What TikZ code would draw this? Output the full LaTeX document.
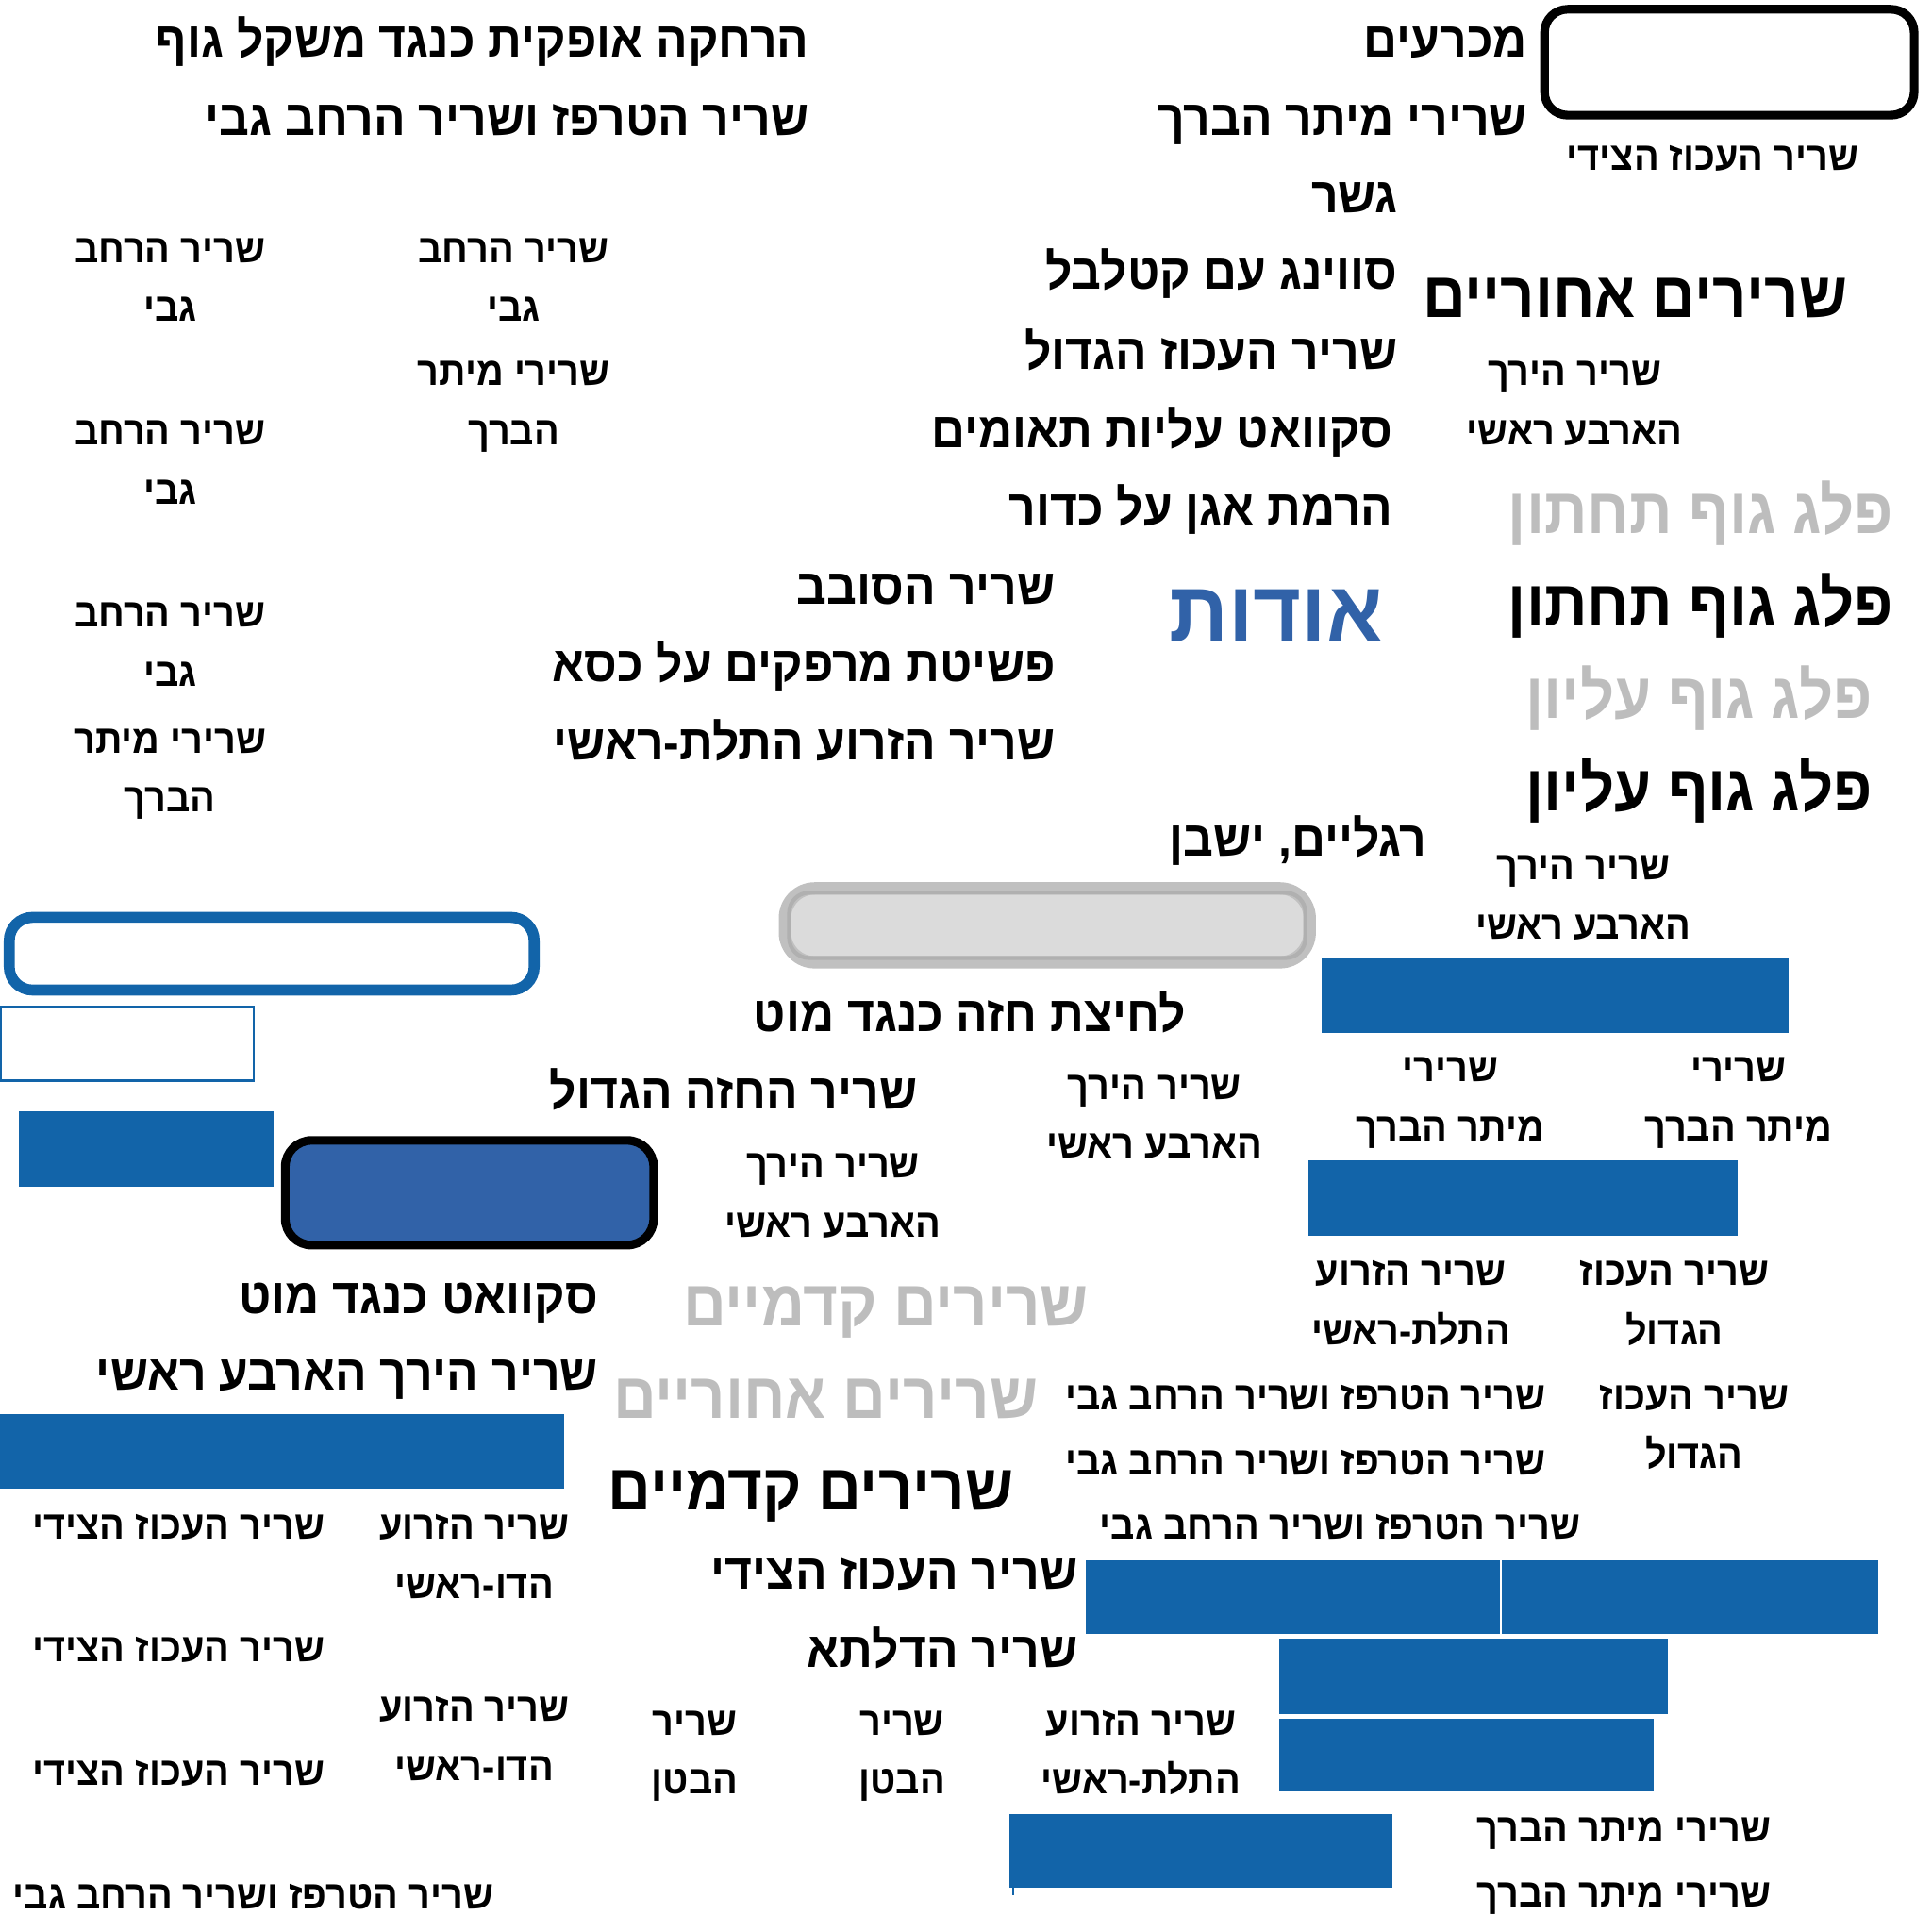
\documentclass[tikz,border=0pt]{standalone}
\usepackage{fontspec}
\usepackage{xcolor}
\setmainfont{Liberation Sans}
\newfontfamily\hebbig[Script=Hebrew, FakeStretch=0.945]{Liberation Sans}
\newfontfamily\hebsmall[Script=Hebrew, FakeStretch=0.94]{Liberation Sans}
\newfontfamily\hebhead[Script=Hebrew, FakeStretch=0.925]{Liberation Sans}
\newfontfamily\hebabout[Script=Hebrew, FakeStretch=0.96]{Liberation Sans}
\TeXXeTstate=1
\definecolor{myblue}{RGB}{18,100,169}
\definecolor{mydarkblue}{RGB}{49,98,168}
\definecolor{mygray}{RGB}{189,189,189}
\definecolor{myboxgray}{RGB}{219,219,219}
\definecolor{myedgegray}{RGB}{192,192,192}
\definecolor{myedgedark}{RGB}{176,176,176}
\newcommand{\heb}[1]{\beginR #1\endR}

\begin{document}
\begin{tikzpicture}[x=0.013061cm, y=-0.013061cm,
  big/.style={font=\hebbig\bfseries\fontsize{15}{18}\selectfont, inner sep=0pt, anchor=base east},
  small/.style={font=\hebsmall\bfseries\fontsize{12}{17.8}\selectfont, inner sep=0pt, anchor=base, align=center},
  head/.style={font=\hebhead\bfseries\fontsize{19.5}{23}\selectfont, inner sep=0pt, anchor=base east},
  headgray/.style={head, text=mygray},
  about/.style={font=\hebabout\bfseries\fontsize{26}{30}\selectfont, inner sep=0pt, anchor=base east, text=mydarkblue}]
\useasboundingbox (0,0) rectangle (1568,1568);

% boxes
\draw[line width=2.6pt, rounded corners=7pt] (1253.5,7.5) rectangle (1553.5,93.5);
\draw[myblue, line width=3.3pt, rounded corners=7pt] (7.5,744.5) rectangle (433.5,803.5);
\draw[myblue, line width=0.6pt] (1,817) rectangle (206,877);
\draw[line width=2.6pt, fill=mydarkblue, rounded corners=8pt] (231.5,925.5) rectangle (530.5,1010.5);
\draw[myedgegray, line width=3.7pt, fill=myboxgray, rounded corners=9pt] (637,721) rectangle (1063,781);
\draw[myedgedark, line width=1.2pt, rounded corners=6pt] (640.5,724.5) rectangle (1059.5,777.5);

% blue bars
\foreach \xa/\ya/\xb/\yb in {15/902/222/963, 1073/778/1452/838, 1062/942/1410/1003,
  0/1148/458/1208, 881/1266/1217/1326, 1219/1266/1524/1326,
  1038/1330/1354/1391, 1038/1395/1342/1454, 819/1472/1130/1532}
  \fill[myblue] (\xa,\ya) rectangle (\xb,\yb);
\draw[myblue, line width=0.5pt] (822,1532) -- (822,1538);

% exercises and muscles
\node[big] (exAbd) at (657,46) {\heb{הרחקה אופקית כנגד משקל גוף}};
\node[big] (musTrapTop) at (657,110) {\heb{שריר הטרפז ושריר הרחב גבי}};
\node[big] (exLunge) at (1240,46) {\heb{מכרעים}};
\node[big] (musHamTop) at (1240,110) {\heb{שרירי מיתר הברך}};
\node[big] (exBridge) at (1135,173) {\heb{גשר}};
\node[big] (exSwing) at (1135,235) {\heb{סווינג עם קטלבל}};
\node[big] (musGlutMax) at (1135,300) {\heb{שריר העכוז הגדול}};
\node[big] (exCalf) at (1131,363) {\heb{סקוואט עליות תאומים}};
\node[big] (exHipBall) at (1131,426) {\heb{הרמת אגן על כדור}};
\node[big] (musRot) at (857,490) {\heb{שריר הסובב}};
\node[big] (exDips) at (857,553) {\heb{פשיטת מרפקים על כסא}};
\node[big] (musTri) at (857,617) {\heb{שריר הזרוע התלת-ראשי}};
\node[big] (hdLegs) at (1158,695) {\heb{רגליים, ישבן}};
\node[big] (exBench) at (963,837) {\heb{לחיצת חזה כנגד מוט}};
\node[big] (musPec) at (745,900) {\heb{שריר החזה הגדול}};
\node[big] (exSquat) at (486,1066) {\heb{סקוואט כנגד מוט}};
\node[big] (musQuad) at (486,1128) {\heb{שריר הירך הארבע ראשי}};
\node[big] (musGlutMed) at (875,1290) {\heb{שריר העכוז הצידי}};
\node[big] (musDelt) at (875,1353) {\heb{שריר הדלתא}};

% headings
\node[head] (hdPost) at (1500,258) {\heb{שרירים אחוריים}};
\node[headgray] (hdLowerGray) at (1537,433) {\heb{פלג גוף תחתון}};
\node[head] (hdLower) at (1537,508) {\heb{פלג גוף תחתון}};
\node[headgray] (hdUpperGray) at (1520,583) {\heb{פלג גוף עליון}};
\node[head] (hdUpper) at (1520,658) {\heb{פלג גוף עליון}};
\node[headgray] (hdAntGray) at (884,1076) {\heb{שרירים קדמיים}};
\node[headgray] (hdPostGray) at (843,1151) {\heb{שרירים אחוריים}};
\node[head] (hdAnt) at (823,1225) {\heb{שרירים קדמיים}};
\node[about] (about) at (1123,521) {\heb{אודות}};

% small labels, two lines (base = second line)
\node[small] (lbLat1) at (138,261) {\heb{שריר הרחב}\\\heb{גבי}};
\node[small] (lbLat2) at (417,261) {\heb{שריר הרחב}\\\heb{גבי}};
\node[small] (lbHam1) at (417,361) {\heb{שרירי מיתר}\\\heb{הברך}};
\node[small] (lbLat3) at (138,409) {\heb{שריר הרחב}\\\heb{גבי}};
\node[small] (lbLat4) at (138,557) {\heb{שריר הרחב}\\\heb{גבי}};
\node[small] (lbHam2) at (138,659) {\heb{שרירי מיתר}\\\heb{הברך}};
\node[small] (lbQuad1) at (1278,361) {\heb{שריר הירך}\\\heb{הארבע ראשי}};
\node[small] (lbQuad2) at (1285,762) {\heb{שריר הירך}\\\heb{הארבע ראשי}};
\node[small] (lbQuad3) at (937,940) {\heb{שריר הירך}\\\heb{הארבע ראשי}};
\node[small] (lbQuad4) at (676,1004) {\heb{שריר הירך}\\\heb{הארבע ראשי}};
\node[small] (lbHam3) at (1177,926) {\heb{שרירי}\\\heb{מיתר הברך}};
\node[small] (lbHam4) at (1411,926) {\heb{שרירי}\\\heb{מיתר הברך}};
\node[small] (lbTri1) at (1145,1091) {\heb{שריר הזרוע}\\\heb{התלת-ראשי}};
\node[small] (lbGlut1) at (1359,1091) {\heb{שריר העכוז}\\\heb{הגדול}};
\node[small] (lbGlut2) at (1375,1192) {\heb{שריר העכוז}\\\heb{הגדול}};
\node[small] (lbBi1) at (385,1297) {\heb{שריר הזרוע}\\\heb{הדו-ראשי}};
\node[small] (lbBi2) at (385,1445) {\heb{שריר הזרוע}\\\heb{הדו-ראשי}};
\node[small] (lbAbs1) at (564,1456) {\heb{שריר}\\\heb{הבטן}};
\node[small] (lbAbs2) at (732,1456) {\heb{שריר}\\\heb{הבטן}};
\node[small] (lbTri2) at (926,1456) {\heb{שריר הזרוע}\\\heb{התלת-ראשי}};

% small labels, one line
\node[small] (lbGmed1) at (1390,138) {\heb{שריר העכוז הצידי}};
\node[small] (lbGmed2) at (145,1249) {\heb{שריר העכוז הצידי}};
\node[small] (lbGmed3) at (145,1349) {\heb{שריר העכוז הצידי}};
\node[small] (lbGmed4) at (145,1449) {\heb{שריר העכוז הצידי}};
\node[small] (lbHam5) at (1318,1495) {\heb{שרירי מיתר הברך}};
\node[small] (lbHam6) at (1318,1548) {\heb{שרירי מיתר הברך}};
\node[small, anchor=base east] (lbTrap1) at (1255,1144) {\heb{שריר הטרפז ושריר הרחב גבי}};
\node[small, anchor=base east] (lbTrap2) at (1255,1197) {\heb{שריר הטרפז ושריר הרחב גבי}};
\node[small, anchor=base east] (lbTrap3) at (1283,1249) {\heb{שריר הטרפז ושריר הרחב גבי}};
\node[small, anchor=base east] (lbTrap4) at (401,1549) {\heb{שריר הטרפז ושריר הרחב גבי}};

\end{tikzpicture}
\end{document}
